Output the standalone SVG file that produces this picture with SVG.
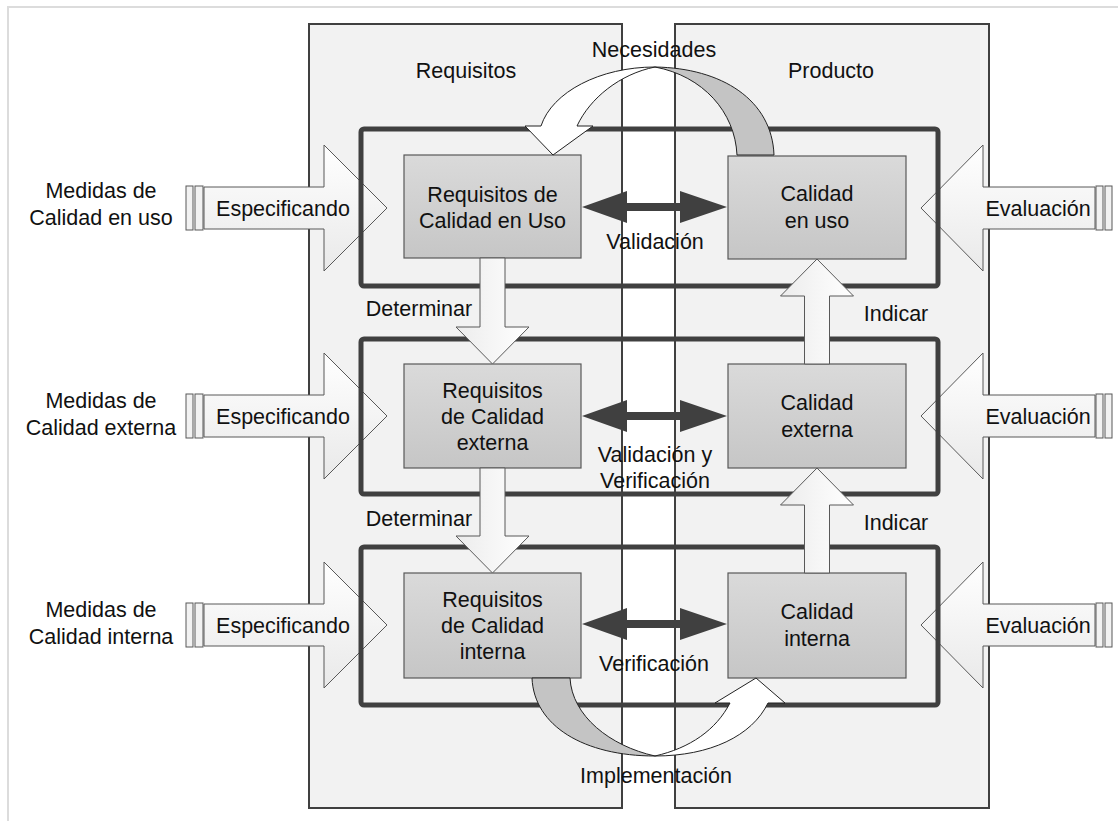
<svg xmlns="http://www.w3.org/2000/svg" width="1118" height="821" viewBox="0 0 1118 821">
  <defs>
    <linearGradient id="boxFill" x1="0" y1="0" x2="0" y2="1">
      <stop offset="0" stop-color="#dadada"/>
      <stop offset="1" stop-color="#c6c6c6"/>
    </linearGradient>
    <linearGradient id="arrowFillH" x1="0" y1="0" x2="0" y2="1">
      <stop offset="0" stop-color="#ffffff"/>
      <stop offset="1" stop-color="#e9e9e9"/>
    </linearGradient>
    <linearGradient id="arrowFillV" x1="0" y1="0" x2="1" y2="0">
      <stop offset="0" stop-color="#ececec"/>
      <stop offset="1" stop-color="#ffffff"/>
    </linearGradient>
  </defs>
  <style>
    text { font-family: "Liberation Sans", Arial, sans-serif; font-size: 21.5px; fill: #111; text-anchor: middle; }
    .panel { fill: #f2f2f2; stroke: #404040; stroke-width: 2; }
    .band { fill: none; stroke: #404040; stroke-width: 5; }
    .box { fill: url(#boxFill); stroke: #595959; stroke-width: 1.2; }
    .bigArrow { fill: url(#arrowFillH); stroke: #595959; stroke-width: 1; }
    .vArrow { fill: url(#arrowFillV); stroke: #595959; stroke-width: 1; }
    .bar { fill: #f2f2f2; stroke: #595959; stroke-width: 1; }
    .dbl { fill: #404040; }
    .ribbonBack { fill: #c4c4c4; stroke: #222; stroke-width: 1; }
    .ribbonFront { fill: #ffffff; stroke: #222; stroke-width: 1; }
  </style>

  <!-- frame -->
  <rect x="8" y="7" width="1120" height="830" fill="#ffffff" stroke="#dcdcdc" stroke-width="2"/>

  <!-- columns -->
  <g id="requisitos">
    <rect class="panel" x="309" y="24" width="313" height="784"/>
    <text x="466" y="78">Requisitos</text>
  </g>
  <g id="producto">
    <rect class="panel" x="675" y="24" width="314" height="784"/>
    <text x="831" y="78">Producto</text>
  </g>

  <!-- measures entering from the left -->
  <g id="especificando-uso">
    <rect class="bar" x="186" y="186" width="7" height="44"/>
    <rect class="bar" x="195" y="186" width="8" height="44"/>
    <path class="bigArrow" d="M204,187 H324 V145 L387,208 L324,271 V229 H204 Z"/>
    <text x="283" y="216">Especificando</text>
  </g>
  <g id="especificando-externa">
    <rect class="bar" x="186" y="394" width="7" height="44"/>
    <rect class="bar" x="195" y="394" width="8" height="44"/>
    <path class="bigArrow" d="M204,395 H324 V353 L387,416 L324,479 V437 H204 Z"/>
    <text x="283" y="424">Especificando</text>
  </g>
  <g id="especificando-interna">
    <rect class="bar" x="186" y="603" width="7" height="44"/>
    <rect class="bar" x="195" y="603" width="8" height="44"/>
    <path class="bigArrow" d="M204,604 H324 V562 L387,625 L324,688 V646 H204 Z"/>
    <text x="283" y="633">Especificando</text>
  </g>

  <!-- evaluations entering from the right -->
  <g id="evaluacion-uso">
    <rect class="bar" x="1096" y="186" width="7" height="44"/>
    <rect class="bar" x="1105" y="186" width="7" height="44"/>
    <path class="bigArrow" d="M1095,187 H983 V145 L921,208 L983,271 V229 H1095 Z"/>
    <text x="1038" y="216">Evaluación</text>
  </g>
  <g id="evaluacion-externa">
    <rect class="bar" x="1096" y="394" width="7" height="44"/>
    <rect class="bar" x="1105" y="394" width="7" height="44"/>
    <path class="bigArrow" d="M1095,395 H983 V353 L921,416 L983,479 V437 H1095 Z"/>
    <text x="1038" y="424">Evaluación</text>
  </g>
  <g id="evaluacion-interna">
    <rect class="bar" x="1096" y="603" width="7" height="44"/>
    <rect class="bar" x="1105" y="603" width="7" height="44"/>
    <path class="bigArrow" d="M1095,604 H983 V562 L921,625 L983,688 V646 H1095 Z"/>
    <text x="1038" y="633">Evaluación</text>
  </g>

  <!-- measure labels -->
  <g id="medidas-uso">
    <text x="101" y="198">Medidas de</text>
    <text x="101" y="225">Calidad en uso</text>
  </g>
  <g id="medidas-externa">
    <text x="101" y="408">Medidas de</text>
    <text x="101" y="435">Calidad externa</text>
  </g>
  <g id="medidas-interna">
    <text x="101" y="617">Medidas de</text>
    <text x="101" y="644">Calidad interna</text>
  </g>

  <!-- quality levels -->
  <g id="bands">
    <rect class="band" x="361" y="129" width="577" height="157" rx="3"/>
    <rect class="band" x="361" y="339" width="577" height="155" rx="3"/>
    <rect class="band" x="361" y="547" width="577" height="158" rx="3"/>
  </g>

  <g id="req-uso">
    <rect class="box" x="404" y="155" width="177" height="103"/>
    <text x="492.5" y="202">Requisitos de</text>
    <text x="492.5" y="228">Calidad en Uso</text>
  </g>
  <g id="req-externa">
    <rect class="box" x="404" y="364" width="177" height="104"/>
    <text x="492.5" y="398">Requisitos</text>
    <text x="492.5" y="424">de Calidad</text>
    <text x="492.5" y="450">externa</text>
  </g>
  <g id="req-interna">
    <rect class="box" x="404" y="573" width="177" height="105"/>
    <text x="492.5" y="607">Requisitos</text>
    <text x="492.5" y="633">de Calidad</text>
    <text x="492.5" y="659">interna</text>
  </g>
  <g id="cal-uso">
    <rect class="box" x="728" y="156" width="178" height="103"/>
    <text x="817" y="201">Calidad</text>
    <text x="817" y="228">en uso</text>
  </g>
  <g id="cal-externa">
    <rect class="box" x="728" y="364" width="178" height="104"/>
    <text x="817" y="410">Calidad</text>
    <text x="817" y="437">externa</text>
  </g>
  <g id="cal-interna">
    <rect class="box" x="728" y="573" width="178" height="105"/>
    <text x="817" y="619">Calidad</text>
    <text x="817" y="646">interna</text>
  </g>

  <!-- connectors -->
  <g id="connectors">
    <!-- validation / verification double arrows -->
    <path class="dbl" d="M582,207 L627,191 V203 H680 V191 L727,207 L680,223 V211 H627 V223 Z"/>
    <path class="dbl" d="M582,416 L627,400 V412 H680 V400 L727,416 L680,432 V420 H627 V432 Z"/>
    <path class="dbl" d="M582,624 L627,608 V620 H680 V608 L727,624 L680,640 V628 H627 V640 Z"/>

    <!-- Determinar -->
    <path class="vArrow" d="M480,258 H505 V327 H529 L492.5,364 L456,327 H480 Z"/>
    <path class="vArrow" d="M480,468 H505 V536 H529 L492.5,573 L456,536 H480 Z"/>

    <!-- Indicar -->
    <path class="vArrow" d="M804.5,364 H829.5 V296 H853.5 L817,259 L780.5,296 H804.5 Z"/>
    <path class="vArrow" d="M804.5,573 H829.5 V505 H853.5 L817,468 L780.5,505 H804.5 Z"/>

    <!-- Necesidades: from product back to requirements -->
    <path class="ribbonBack" d="M655,67 C722,68 772,100 774,155 L737,155 C735,112 703,76 655,67 Z"/>
    <path class="ribbonFront" d="M655,67 C600,67 552,92 541,126 L525,126 L553,155 L593,126 L577,126 C590,98 620,74 655,67 Z"/>

    <!-- Implementación: from requirements to product -->
    <path class="ribbonBack" d="M532,678 C534,726 584,756 655,756 C610,746 572,716 570,678 Z"/>
    <path class="ribbonFront" d="M655,756 C710,756 752,736 768,703 L785,703 L756,678 L715,703 L730,703 C716,730 690,748 655,756 Z"/>
  </g>

  <!-- connector labels -->
  <g id="labels">
    <text x="654" y="57">Necesidades</text>
    <text x="655" y="249">Validación</text>
    <text x="655" y="462">Validación y</text>
    <text x="655" y="488">Verificación</text>
    <text x="654" y="671">Verificación</text>
    <text x="656" y="783">Implementación</text>
    <text x="419" y="316">Determinar</text>
    <text x="419" y="526">Determinar</text>
    <text x="896" y="321">Indicar</text>
    <text x="896" y="530">Indicar</text>
  </g>
</svg>
